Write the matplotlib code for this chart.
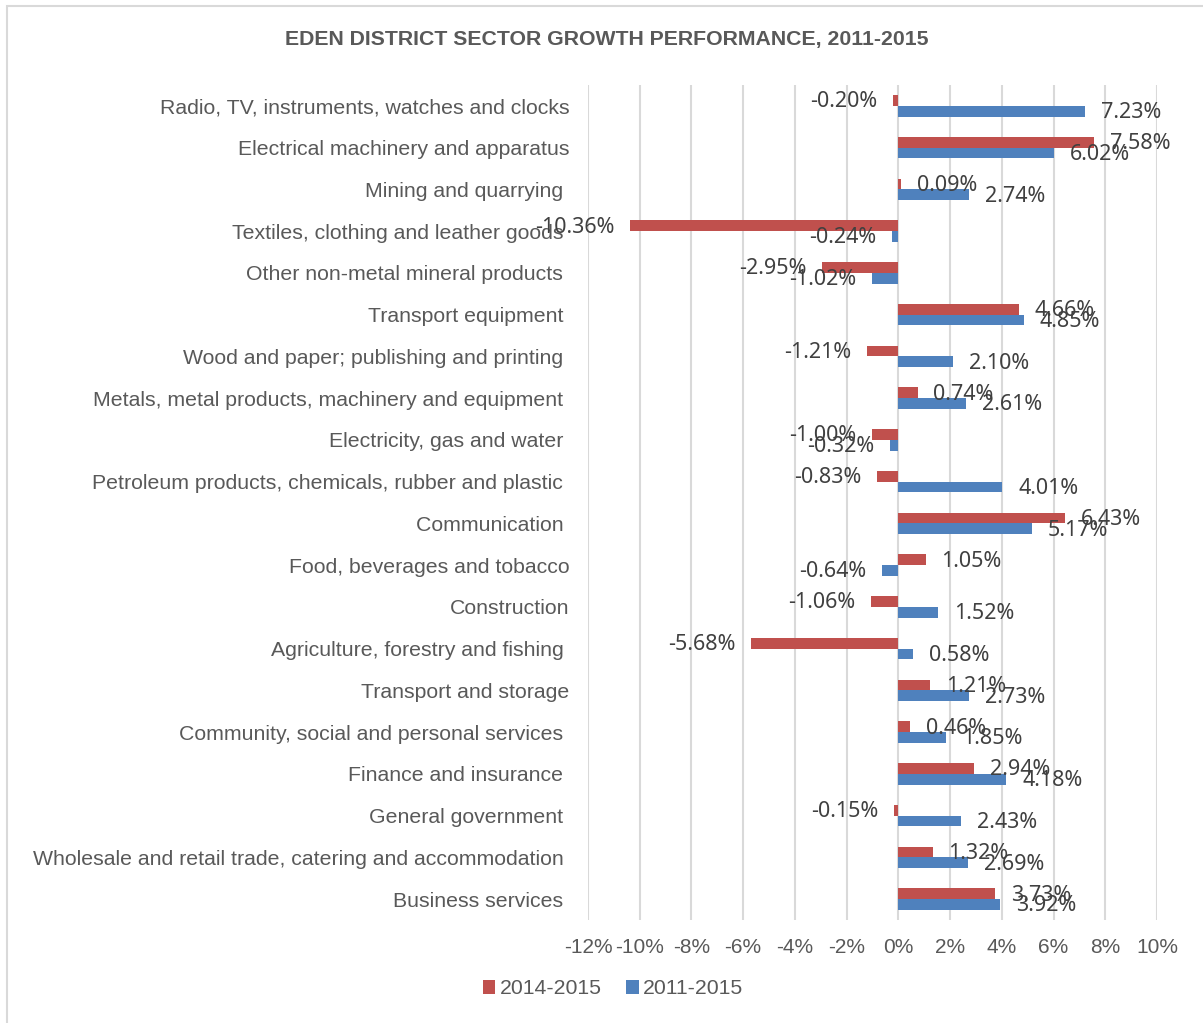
import matplotlib
matplotlib.use("Agg")
import matplotlib.pyplot as plt
import matplotlib.patches as patches
import numpy as np

# categories (trailing spaces kept as in the source sheet)
categories = [
    "Radio, TV, instruments, watches and clocks",
    "Electrical machinery and apparatus",
    "Mining and quarrying ",
    "Textiles, clothing and leather goods ",
    "Other non-metal mineral products ",
    "Transport equipment ",
    "Wood and paper; publishing and printing ",
    "Metals, metal products, machinery and equipment ",
    "Electricity, gas and water ",
    "Petroleum products, chemicals, rubber and plastic ",
    "Communication ",
    "Food, beverages and tobacco",
    "Construction",
    "Agriculture, forestry and fishing ",
    "Transport and storage",
    "Community, social and personal services ",
    "Finance and insurance ",
    "General government ",
    "Wholesale and retail trade, catering and accommodation ",
    "Business services ",
]
growth_2014_2015 = [-0.20, 7.58, 0.09, -10.36, -2.95, 4.66, -1.21, 0.74, -1.00, -0.83,
                    6.43, 1.05, -1.06, -5.68, 1.21, 0.46, 2.94, -0.15, 1.32, 3.73]
growth_2011_2015 = [7.23, 6.02, 2.74, -0.24, -1.02, 4.85, 2.10, 2.61, -0.32, 4.01,
                    5.17, -0.64, 1.52, 0.58, 2.73, 1.85, 4.18, 2.43, 2.69, 3.92]
series_names = ["2014-2015", "2011-2015"]
x_ticks = [-12, -10, -8, -6, -4, -2, 0, 2, 4, 6, 8, 10]

RED = "#C0504D"
BLUE = "#4F81BD"
LABEL_FONT = "Liberation Sans"

W, H = 1203, 1023
fig = plt.figure(figsize=(W / 100, H / 100), dpi=100)
ax = fig.add_axes([588 / W, 1 - 920 / H, (1157 - 588) / W, (920 - 85) / H])

# outer chart border
fig.add_artist(patches.Rectangle((7 / W, -0.05), 1.1, 1 - 6 / H + 0.05,
                                 transform=fig.transFigure, fill=False,
                                 edgecolor="#D9D9D9", linewidth=1.5))

y = np.arange(len(categories))
h = 0.26
bars_red = ax.barh(y - h / 2, growth_2014_2015, height=h, color=RED, label=series_names[0], zorder=3)
bars_blue = ax.barh(y + h / 2, growth_2011_2015, height=h, color=BLUE, label=series_names[1], zorder=3)

# data labels, outside end
for bars, vals in [(bars_red, growth_2014_2015), (bars_blue, growth_2011_2015)]:
    for b, v in zip(bars, vals):
        yc = b.get_y() + b.get_height() / 2
        off = 11.5 if v >= 0 else -11.5
        ax.annotate(f"{v:.2f}%", (v, yc), xytext=(off, -1), textcoords="offset points",
                    ha="left" if v >= 0 else "right", va="center",
                    fontsize=15.5, color="#404040", family="Noto Sans", zorder=4)

ax.set_xlim(-12, 10)
ax.set_ylim(len(categories) - 0.5, -0.5)
ax.set_xticks(x_ticks)
ax.set_xticklabels([f"{t}%" for t in x_ticks], fontsize=15, color="#595959", family=LABEL_FONT)
ax.set_yticks(y)
ax.set_yticklabels(categories, fontsize=15.3, color="#595959", family=LABEL_FONT)
ax.tick_params(axis="both", length=0)
ax.tick_params(axis="x", pad=13)
ax.tick_params(axis="y", pad=13.5)
ax.grid(axis="x", color="#D9D9D9", linewidth=1.5, zorder=0)
for s in ax.spines.values():
    s.set_visible(False)

fig.text(607 / W, 1 - 40 / H, "EDEN DISTRICT SECTOR GROWTH PERFORMANCE, 2011-2015",
         ha="center", va="center", fontsize=15.3, fontweight="bold",
         color="#595959", family=LABEL_FONT)

leg = fig.legend(handles=[bars_red, bars_blue], labels=series_names, loc="center",
                 bbox_to_anchor=(613 / W, 1 - 989 / H), ncol=2, frameon=False,
                 handlelength=0.6, handleheight=0.6, handletextpad=0.2,
                 columnspacing=1.15, prop={"family": LABEL_FONT, "size": 15.3})
for t in leg.get_texts():
    t.set_color("#595959")

fig.savefig("out.png", dpi=100)
